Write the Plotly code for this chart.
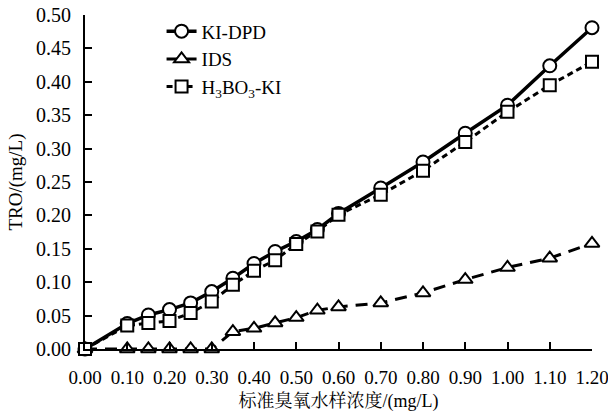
import plotly.graph_objects as go

x_vals = [0.00, 0.10, 0.15, 0.20, 0.25, 0.30, 0.35, 0.40, 0.45, 0.50, 0.55, 0.60, 0.70, 0.80, 0.90, 1.00, 1.10, 1.20]
ki_dpd = [0.000, 0.038, 0.051, 0.059, 0.069, 0.086, 0.106, 0.128, 0.146, 0.161, 0.179, 0.203, 0.241, 0.280, 0.323, 0.365, 0.424, 0.481]
ids = [0.000, 0.000, 0.000, 0.000, 0.000, 0.000, 0.026, 0.031, 0.039, 0.047, 0.058, 0.063, 0.069, 0.084, 0.104, 0.122, 0.136, 0.158]
h3bo3_ki = [0.000, 0.035, 0.039, 0.042, 0.054, 0.071, 0.096, 0.117, 0.133, 0.157, 0.176, 0.201, 0.231, 0.267, 0.310, 0.355, 0.395, 0.430]

series_names = ["KI-DPD", "IDS", "H<sub>3</sub>BO<sub>3</sub>-KI"]
x_title = "标准臭氧水样浓度/(mg/L)"
y_title = "TRO/(mg/L)"

FONT = "Liberation Serif, Noto Serif CJK SC, Noto Sans CJK SC, serif"

fig = go.Figure()
fig.add_trace(go.Scatter(
    x=x_vals, y=ki_dpd, name=series_names[0], mode="lines+markers",
    line=dict(color="black", width=3.5, dash="solid"),
    marker=dict(symbol="circle", size=13, color="white", line=dict(color="black", width=2)),
    cliponaxis=False,
))
fig.add_trace(go.Scatter(
    x=x_vals, y=ids, name=series_names[1], mode="lines+markers",
    line=dict(color="black", width=3, dash="12px,8px"),
    marker=dict(symbol="triangle-up", size=13, color="white", line=dict(color="black", width=2)),
    cliponaxis=False,
))
fig.add_trace(go.Scatter(
    x=x_vals, y=h3bo3_ki, name=series_names[2], mode="lines+markers",
    line=dict(color="black", width=3, dash="6px,4px"),
    marker=dict(symbol="square", size=12, color="white", line=dict(color="black", width=2)),
    cliponaxis=False,
))

fig.update_layout(
    width=608, height=419,
    margin=dict(l=85, r=16, t=15, b=70, autoexpand=False),
    paper_bgcolor="white", plot_bgcolor="white",
    font=dict(family=FONT, size=20, color="black"),
    showlegend=True,
    legend=dict(x=0.151, y=1.008, xanchor="left", yanchor="top",
                bgcolor="rgba(0,0,0,0)", font=dict(size=19, family=FONT),
                tracegroupgap=0),
    xaxis=dict(range=[0, 1.2], dtick=0.1, tick0=0, tickformat=".2f", automargin=False,
               showgrid=False, zeroline=False, showline=True, linecolor="black", linewidth=2,
               ticks="inside", ticklen=7, tickwidth=2, tickcolor="black",
               ticklabelstandoff=10, ticklabeloverflow="allow",
               title=dict(text=x_title, font=dict(size=18, family=FONT), standoff=8),
               tickfont=dict(size=19, family=FONT)),
    yaxis=dict(range=[0, 0.5], dtick=0.05, tick0=0, tickformat=".2f", automargin=False,
               showgrid=False, zeroline=False, showline=True, linecolor="black", linewidth=2,
               ticks="inside", ticklen=7, tickwidth=2, tickcolor="black",
               ticklabelstandoff=8, ticklabeloverflow="allow",
               title=dict(text=y_title, font=dict(size=19, family=FONT), standoff=8),
               tickfont=dict(size=20, family=FONT)),
)

fig.write_html("out.html", config={"displayModeBar": False},
               post_script="document.body.style.margin='0';")
